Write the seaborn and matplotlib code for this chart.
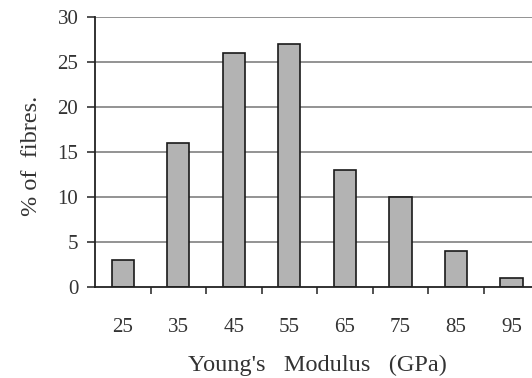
import matplotlib
matplotlib.use("Agg")
import matplotlib.pyplot as plt
import seaborn as sns
import pandas as pd
from matplotlib.ticker import FixedLocator

categories = ["25", "35", "45", "55", "65", "75", "85", "95"]
values = [3, 16, 26, 27, 13, 10, 4, 1]
yticks = [0, 5, 10, 15, 20, 25, 30]

sns.set_theme(style="white")
plt.rcParams['font.family'] = ['Liberation Serif', 'DejaVu Serif']

df = pd.DataFrame({"modulus": categories, "pct": values})

fig = plt.figure(figsize=(5.32, 3.78), dpi=100)
ax = fig.add_axes([0.1786, 0.2395, 0.835, 0.7155])

for y in yticks[1:]:
    ax.axhline(y, color="#8a8a8a", lw=1.3, zorder=0)

sns.barplot(data=df, x="modulus", y="pct", color="#b3b3b3", width=0.4,
            edgecolor="#1a1a1a", linewidth=1.2, saturation=1, ax=ax, zorder=2)

ax.set_xlim(-0.5, 7.5)
ax.set_ylim(0, 30)
ax.set_yticks(yticks)
ax.set_yticklabels([str(v) for v in yticks], fontsize=15, color="#333333")
ax.tick_params(axis="x", which="major", length=0, pad=22, labelsize=15, labelcolor="#333333")
ax.xaxis.set_minor_locator(FixedLocator([0.5 + i for i in range(7)]))
ax.tick_params(axis="x", which="minor", length=5, width=1.1, color="#222222", direction="out", bottom=True)
ax.tick_params(axis="y", length=6, width=1.1, color="#222222", direction="out", left=True, pad=6)

for s in ["top", "right"]:
    ax.spines[s].set_visible(False)
for s in ["left", "bottom"]:
    ax.spines[s].set_color("#222222")
    ax.spines[s].set_linewidth(1.3)

ax.set_xlabel("Young's   Modulus   (GPa)", fontsize=17.5, color="#333333", labelpad=13)
ax.set_ylabel("% of  fibres.", fontsize=17.5, color="#333333")
ax.yaxis.set_label_coords(-0.119, 0.487)

fig.savefig("out.png", dpi=100)
